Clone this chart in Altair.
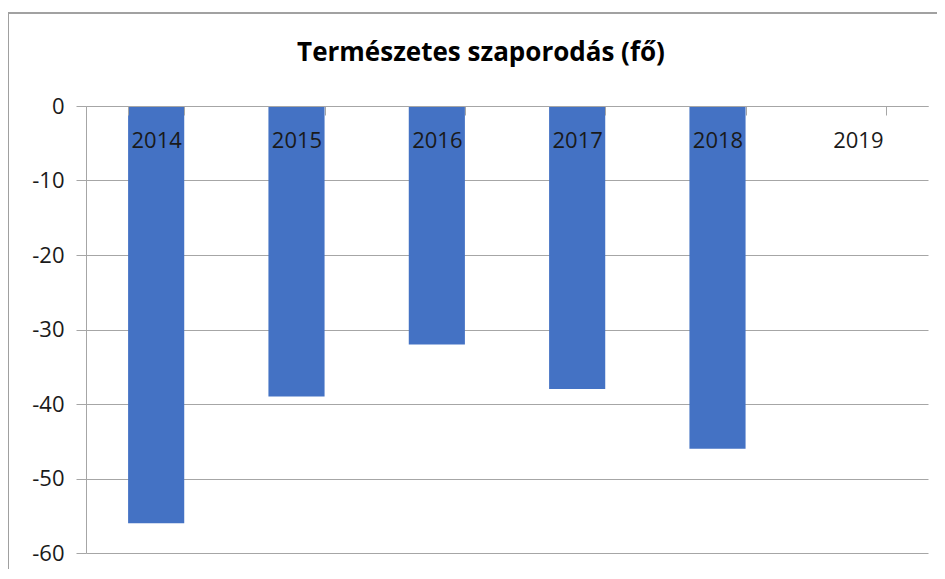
import altair as alt
import pandas as pd

years = ["2014", "2015", "2016", "2017", "2018", "2019"]
values = [-56, -39, -32, -38, -46, None]
y_ticks = [0, -10, -20, -30, -40, -50, -60]
title_text = "Természetes szaporodás (fő)"

df = pd.DataFrame({"year": years, "value": values})

W, H = 842, 447
FONT = "Open Sans"
GREY = "#a6a6a6"

bars = alt.Chart(df).mark_bar(color="#4472C4").encode(
    x=alt.X(
        "year:N",
        scale=alt.Scale(domain=years, paddingInner=0.6, paddingOuter=0.3),
        axis=alt.Axis(
            title=None,
            orient="bottom",
            offset=-H,
            labelAngle=0,
            labelFont=FONT,
            labelFontSize=22,
            labelColor="#1a1a1a",
            labelPadding=15,
            labelBaseline="top",
            tickBand="extent",
            tickSize=9,
            tickColor=GREY,
            domainColor=GREY,
            grid=False,
            zindex=1,
        ),
    ),
    y=alt.Y(
        "value:Q",
        scale=alt.Scale(domain=[-60, 0], nice=False, zero=False),
        axis=alt.Axis(
            title=None,
            values=y_ticks,
            labelExpr="'' + datum.value",
            labelFont=FONT,
            labelFontSize=22,
            labelColor="#1a1a1a",
            labelPadding=12,
            tickSize=10,
            tickColor=GREY,
            domainColor=GREY,
            gridColor=GREY,
            grid=True,
        ),
    ),
)

border_left = alt.Chart(df).mark_rule(color="#a0a0a0", strokeWidth=1.2).encode(
    x=alt.value(-78), y=alt.value(-93), y2=alt.value(700)
)
border_top = alt.Chart(df).mark_rule(color="#a0a0a0", strokeWidth=1.2).encode(
    x=alt.value(-78), x2=alt.value(1100), y=alt.value(-93)
)

chart = (
    alt.layer(bars, border_left, border_top)
    .properties(
        width=W,
        height=H,
        title=alt.TitleParams(
            title_text,
            font=FONT,
            fontSize=26,
            fontWeight="bold",
            color="#000000",
            anchor="middle",
            dx=-26,
            offset=-54,
        ),
        autosize=alt.AutoSizeParams(type="none"),
        padding={"left": 78, "top": 98, "right": 9, "bottom": 16},
    )
    .configure_view(stroke=None)
)

chart.save("out.html", embed_options={"renderer": "svg", "actions": False})
